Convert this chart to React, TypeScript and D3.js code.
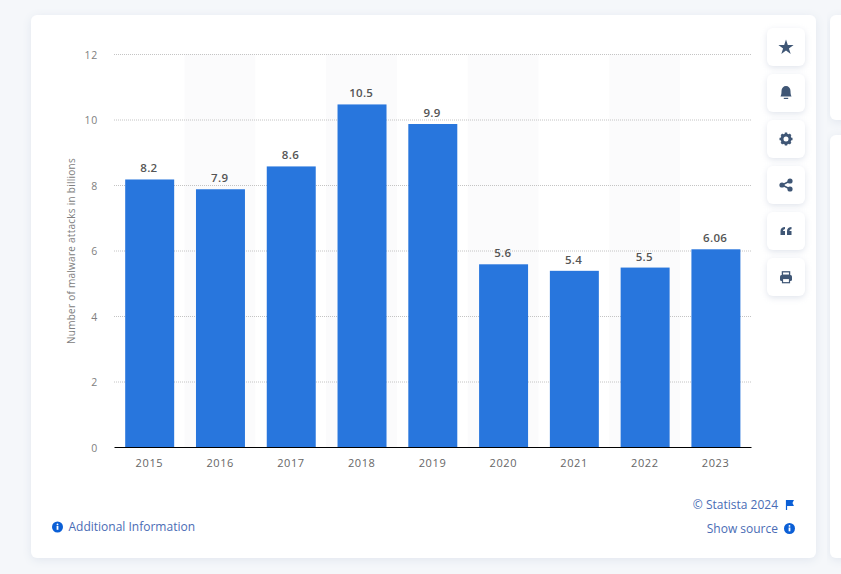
import React, { useRef, useEffect } from 'react';
import * as d3 from 'd3';

const years = ['2015', '2016', '2017', '2018', '2019', '2020', '2021', '2022', '2023'];
const attacks = [8.2, 7.9, 8.6, 10.5, 9.9, 5.6, 5.4, 5.5, 6.06];
const attackLabels = ['8.2', '7.9', '8.6', '10.5', '9.9', '5.6', '5.4', '5.5', '6.06'];
const yTicks = [0, 2, 4, 6, 8, 10, 12];
const iconNames = ['star', 'bell', 'gear', 'share', 'quote', 'print'];

const WIDTH = 841;
const HEIGHT = 574;
const FONT = '"Open Sans", sans-serif';
const LINK = '#4a6cb5';
const ICON = '#3f5675';

const drawIcon = (g: any, name: string) => {
  if (name === 'star') {
    g.append('path').attr('d', d3.symbol(d3.symbolStar, 72)()).attr('fill', ICON).attr('transform', 'translate(0,0.5)');
  }
  if (name === 'bell') {
    g.append('path').attr('d', 'M-5.5,3.5 C-4.5,1.5 -4.5,-1 -4.5,-2 A4.5,5 0 0 1 4.5,-2 C4.5,-1 4.5,1.5 5.5,3.5 Z').attr('fill', ICON);
    g.append('rect').attr('x', -2.2).attr('y', 4.8).attr('width', 4.4).attr('height', 1.2).attr('fill', ICON);
  }
  if (name === 'gear') {
    g.append('circle').attr('r', 4).attr('fill', 'none').attr('stroke', ICON).attr('stroke-width', 3);
    d3.range(8).forEach(i => {
      g.append('rect').attr('x', -1.2).attr('y', -6.5).attr('width', 2.4).attr('height', 2.5)
        .attr('fill', ICON).attr('transform', `rotate(${i * 45})`);
    });
  }
  if (name === 'share') {
    g.append('path').attr('d', 'M4,-4 L-4,0 L4,4').attr('fill', 'none').attr('stroke', ICON).attr('stroke-width', 1.5);
    [[4, -4], [-4, 0], [4, 4]].forEach(p => {
      g.append('circle').attr('cx', p[0]).attr('cy', p[1]).attr('r', 2.6).attr('fill', ICON);
    });
  }
  if (name === 'quote') {
    [-5.5, 1].forEach(x => {
      g.append('path').attr('d', `M${x},4 V0 C${x},-2.5 ${x + 2},-4 ${x + 4.5},-4 V-1.8 C${x + 3.5},-1.8 ${x + 2.5},-1.2 ${x + 2.5},0 H${x + 4.5} V4 Z`).attr('fill', ICON);
    });
  }
  if (name === 'print') {
    g.append('rect').attr('x', -6).attr('y', -2).attr('width', 12).attr('height', 6).attr('rx', 1.5).attr('fill', ICON);
    g.append('rect').attr('x', -3.6).attr('y', -5.2).attr('width', 7.2).attr('height', 3.4).attr('fill', 'none').attr('stroke', ICON).attr('stroke-width', 1.3);
    g.append('rect').attr('x', -3.5).attr('y', 1.5).attr('width', 7).attr('height', 4.2).attr('fill', '#fff').attr('stroke', ICON).attr('stroke-width', 1.2);
  }
};

const drawInfo = (svg: any, cx: number, cy: number) => {
  svg.append('circle').attr('cx', cx).attr('cy', cy).attr('r', 5.5).attr('fill', '#0b5fd6');
  svg.append('circle').attr('cx', cx).attr('cy', cy - 2.6).attr('r', 0.9).attr('fill', '#fff');
  svg.append('rect').attr('x', cx - 0.9).attr('y', cy - 1).attr('width', 1.8).attr('height', 3.8).attr('fill', '#fff');
};

const App = () => {
  const svgRef = useRef<SVGSVGElement>(null);

  useEffect(() => {
    d3.select(svgRef.current).selectAll('*').remove();
    const svg = d3.select(svgRef.current);

    const defs = svg.append('defs');
    const shadow = defs.append('filter').attr('id', 'cardShadow')
      .attr('x', '-10%').attr('y', '-10%').attr('width', '120%').attr('height', '120%');
    shadow.append('feDropShadow').attr('dx', 0).attr('dy', 2).attr('stdDeviation', 5)
      .attr('flood-color', '#c9d1e0').attr('flood-opacity', 0.45);
    const btnShadow = defs.append('filter').attr('id', 'btnShadow')
      .attr('x', '-30%').attr('y', '-30%').attr('width', '160%').attr('height', '160%');
    btnShadow.append('feDropShadow').attr('dx', 0).attr('dy', 2).attr('stdDeviation', 3)
      .attr('flood-color', '#bcc5d6').attr('flood-opacity', 0.45);

    // page and cards
    svg.append('rect').attr('width', WIDTH).attr('height', HEIGHT).attr('fill', '#f5f7fa');
    svg.append('rect').attr('x', 31).attr('y', 15).attr('width', 785).attr('height', 543).attr('rx', 6)
      .attr('fill', '#fff').attr('filter', 'url(#cardShadow)');
    svg.append('rect').attr('x', 830).attr('y', 15).attr('width', 30).attr('height', 105).attr('rx', 6)
      .attr('fill', '#fff').attr('filter', 'url(#cardShadow)');
    svg.append('rect').attr('x', 830).attr('y', 135).attr('width', 30).attr('height', 423).attr('rx', 6)
      .attr('fill', '#fff').attr('filter', 'url(#cardShadow)');

    const x = d3.scaleBand().domain(years).range([114, 751]).paddingInner(0.308).paddingOuter(0.154);
    const y = d3.scaleLinear().domain([0, 12]).range([447, 54]);
    // bars sit a touch lower than the gridlines in the original
    const barY = d3.scaleLinear().domain([0, 12]).range([447, 55.5]);

    // alternating column stripes
    const step = x.step();
    svg.append('g').selectAll('rect')
      .data(years.filter((d, i) => i % 2 === 1))
      .join('rect')
      .attr('x', d => (x(d) as number) + x.bandwidth() / 2 - step / 2 - 0.2)
      .attr('y', y(12))
      .attr('width', step)
      .attr('height', y(0) - y(12))
      .attr('fill', '#fbfbfc');

    // gridlines + y labels
    const yAxis = d3.axisLeft(y).tickValues(yTicks).tickSize(0).tickPadding(16).tickFormat(d3.format('d') as any);
    const yG = svg.append('g').attr('transform', 'translate(114,1)').call(yAxis as any);
    yG.select('.domain').remove();
    yG.selectAll('text').attr('font-family', FONT).attr('font-size', 10.5).attr('fill', '#808080').attr('letter-spacing', 0.7);
    svg.append('g').selectAll('line')
      .data(yTicks.filter(d => d > 0))
      .join('line')
      .attr('x1', 114).attr('x2', 751)
      .attr('y1', d => y(d) + 0.5).attr('y2', d => y(d) + 0.5)
      .attr('stroke', '#c4c4c4').attr('stroke-dasharray', '1 1');

    // bars
    svg.append('g').selectAll('rect')
      .data(attacks)
      .join('rect')
      .attr('x', (d, i) => (x(years[i]) as number) + 0.3)
      .attr('y', d => barY(d))
      .attr('width', x.bandwidth())
      .attr('height', d => barY(0) - barY(d))
      .attr('fill', '#2876dd');

    // value labels
    svg.append('g').selectAll('text')
      .data(attacks)
      .join('text')
      .attr('x', (d, i) => (x(years[i]) as number) + x.bandwidth() / 2 - 0.5)
      .attr('y', d => barY(d) - 7)
      .attr('text-anchor', 'middle')
      .attr('font-family', FONT)
      .attr('font-size', 11.5)
      .attr('font-weight', 600)
      .attr('fill', '#555')
      .attr('letter-spacing', 0.3)
      .text((d, i) => attackLabels[i]);

    // x axis
    const xAxis = d3.axisBottom(x).tickSize(0).tickPadding(12);
    const xG = svg.append('g').attr('transform', 'translate(0,447)').call(xAxis as any);
    xG.select('.domain').attr('stroke', '#000').attr('stroke-width', 1);
    xG.selectAll('text').attr('font-family', FONT).attr('font-size', 11).attr('fill', '#666').attr('letter-spacing', 0.6);

    svg.append('text')
      .attr('transform', 'translate(75,251) rotate(-90)')
      .attr('text-anchor', 'middle')
      .attr('font-family', FONT)
      .attr('font-size', 10)
      .attr('letter-spacing', 0.26)
      .attr('fill', '#808080')
      .text('Number of malware attacks in billions');

    // side buttons
    iconNames.forEach((name, i) => {
      const cy = 47 + i * 46;
      svg.append('rect').attr('x', 767).attr('y', cy - 19).attr('width', 38).attr('height', 38).attr('rx', 6)
        .attr('fill', '#fff').attr('filter', 'url(#btnShadow)');
      const g = svg.append('g').attr('transform', `translate(786,${cy})`);
      drawIcon(g, name);
    });

    // footer
    drawInfo(svg, 57.5, 527);
    svg.append('text').attr('x', 68.5).attr('y', 531).attr('font-family', FONT).attr('font-size', 12)
      .attr('fill', LINK).text('Additional Information');
    svg.append('text').attr('x', 778).attr('y', 509).attr('text-anchor', 'end').attr('font-family', FONT).attr('font-size', 12)
      .attr('fill', LINK).text('© Statista 2024');
    svg.append('path').attr('d', 'M786.5,500 V510 M786.5,500.5 H793 L791.8,503 L793,505.5 H786.5').attr('fill', '#0b5fd6')
      .attr('stroke', '#0b5fd6').attr('stroke-width', 1.2);
    svg.append('text').attr('x', 778).attr('y', 533).attr('text-anchor', 'end').attr('font-family', FONT).attr('font-size', 12)
      .attr('fill', LINK).text('Show source');
    drawInfo(svg, 789.5, 528.5);
  }, []);

  return (
    <svg ref={svgRef} width={WIDTH} height={HEIGHT} style={{ position: 'absolute', left: 0, top: 0 }}></svg>
  );
};

export default App;
